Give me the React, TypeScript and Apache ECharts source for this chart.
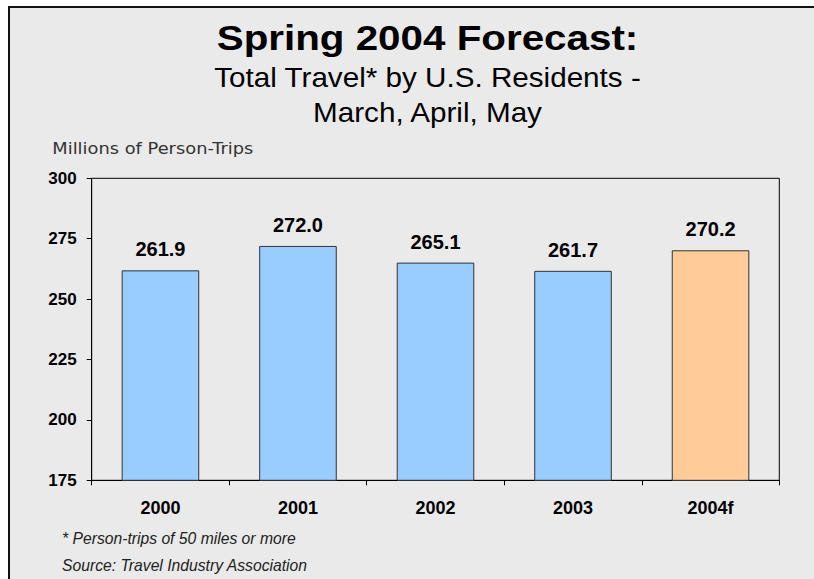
import React, { useEffect, useRef } from "react";
import * as echarts from "echarts";

const categories = ["2000", "2001", "2002", "2003", "2004f"];
const values = [261.9, 272.0, 265.1, 261.7, 270.2];
const yTicks = { min: 175, max: 300, interval: 25 };
const titleText = "Spring 2004 Forecast:";
const subtitleLines = ["Total Travel* by U.S. Residents -", "March, April, May"];
const unitLabel = "Millions of Person-Trips";
const footnotes = ["* Person-trips of 50 miles or more", "Source: Travel Industry Association"];

const FONT = "'Liberation Sans', Arial, sans-serif";

export default function App() {
  const ref = useRef<HTMLDivElement>(null);
  useEffect(() => {
    if (!ref.current) return;
    const chart = echarts.init(ref.current, undefined, { renderer: "svg" });
    const W = 814;
    const cx = 427.5;
    chart.setOption({
      animation: false,
      backgroundColor: "#ffffff",
      grid: {
        left: 91.7,
        top: 178.3,
        right: 34.7,
        bottom: 98.7,
        show: true,
        borderColor: "#000",
        borderWidth: 1,
        backgroundColor: "transparent",
      },
      xAxis: {
        type: "category",
        data: categories,
        axisLine: { lineStyle: { color: "#000", width: 1 } },
        axisTick: { show: true, length: 5, lineStyle: { color: "#000" } },
        axisLabel: {
          margin: 19,
          color: "#000",
          fontFamily: FONT,
          fontWeight: "bold",
          fontSize: 18,
        },
      },
      yAxis: {
        type: "value",
        min: yTicks.min,
        max: yTicks.max,
        interval: yTicks.interval,
        splitLine: { show: false },
        axisLine: { show: true, lineStyle: { color: "#000", width: 1 } },
        axisTick: { show: true, length: 5, lineStyle: { color: "#000" } },
        axisLabel: {
          margin: 15,
          color: "#000",
          fontFamily: FONT,
          fontWeight: "bold",
          fontSize: 17,
        },
      },
      series: [
        {
          type: "bar",
          barWidth: "56.4%",
          data: values.map((v, i) => ({
            value: v,
            itemStyle: {
              color: categories[i].endsWith("f") ? "#FFCC99" : "#99CCFF",
              borderColor: "#333",
              borderWidth: 1,
            },
          })),
          label: {
            show: true,
            position: "top",
            distance: 11,
            color: "#000",
            fontFamily: FONT,
            fontWeight: "bold",
            fontSize: 20,
            formatter: (p: any) => Number(p.value).toFixed(1),
          },
        },
      ],
      graphic: [
        {
          type: "rect",
          z: -10,
          shape: { x: 9, y: 7, width: W + 10, height: 600 },
          style: { fill: "#EAEAEA", stroke: "#111", lineWidth: 2 },
          silent: true,
        },
        {
          type: "text",
          x: cx,
          y: 37.9,
          scaleX: 1.153,
          style: {
            text: titleText,
            fontFamily: FONT,
            fontWeight: "bold",
            fontSize: 35,
            fill: "#000",
            align: "center",
            verticalAlign: "middle",
          },
        },
        ...subtitleLines.map((t, i) => ({
          type: "text",
          x: cx,
          y: 77.8 + i * 34.4,
          scaleX: 1.078,
          style: {
            text: t,
            fontFamily: FONT,
            fontSize: 27.5,
            fill: "#000",
            align: "center",
            verticalAlign: "middle",
          },
        })),
        {
          type: "text",
          x: 52.3,
          y: 149,
          scaleX: 1.19,
          style: {
            text: unitLabel,
            fontFamily: "'DejaVu Sans', Verdana, sans-serif",
            fontSize: 15,
            fill: "#333",
            align: "left",
            verticalAlign: "middle",
          },
        },
        ...footnotes.map((t, i) => ({
          type: "text",
          x: 62,
          y: 538.5 + i * 26.5,
          style: {
            text: t,
            fontFamily: FONT,
            fontStyle: "italic",
            fontSize: 15.7,
            fill: "#222",
            align: "left",
            verticalAlign: "middle",
          },
        })),
      ],
    });
    return () => chart.dispose();
  }, []);
  return (
    <div
      ref={ref}
      style={{ position: "fixed", left: 0, top: 0, width: 814, height: 579 }}
    />
  );
}
